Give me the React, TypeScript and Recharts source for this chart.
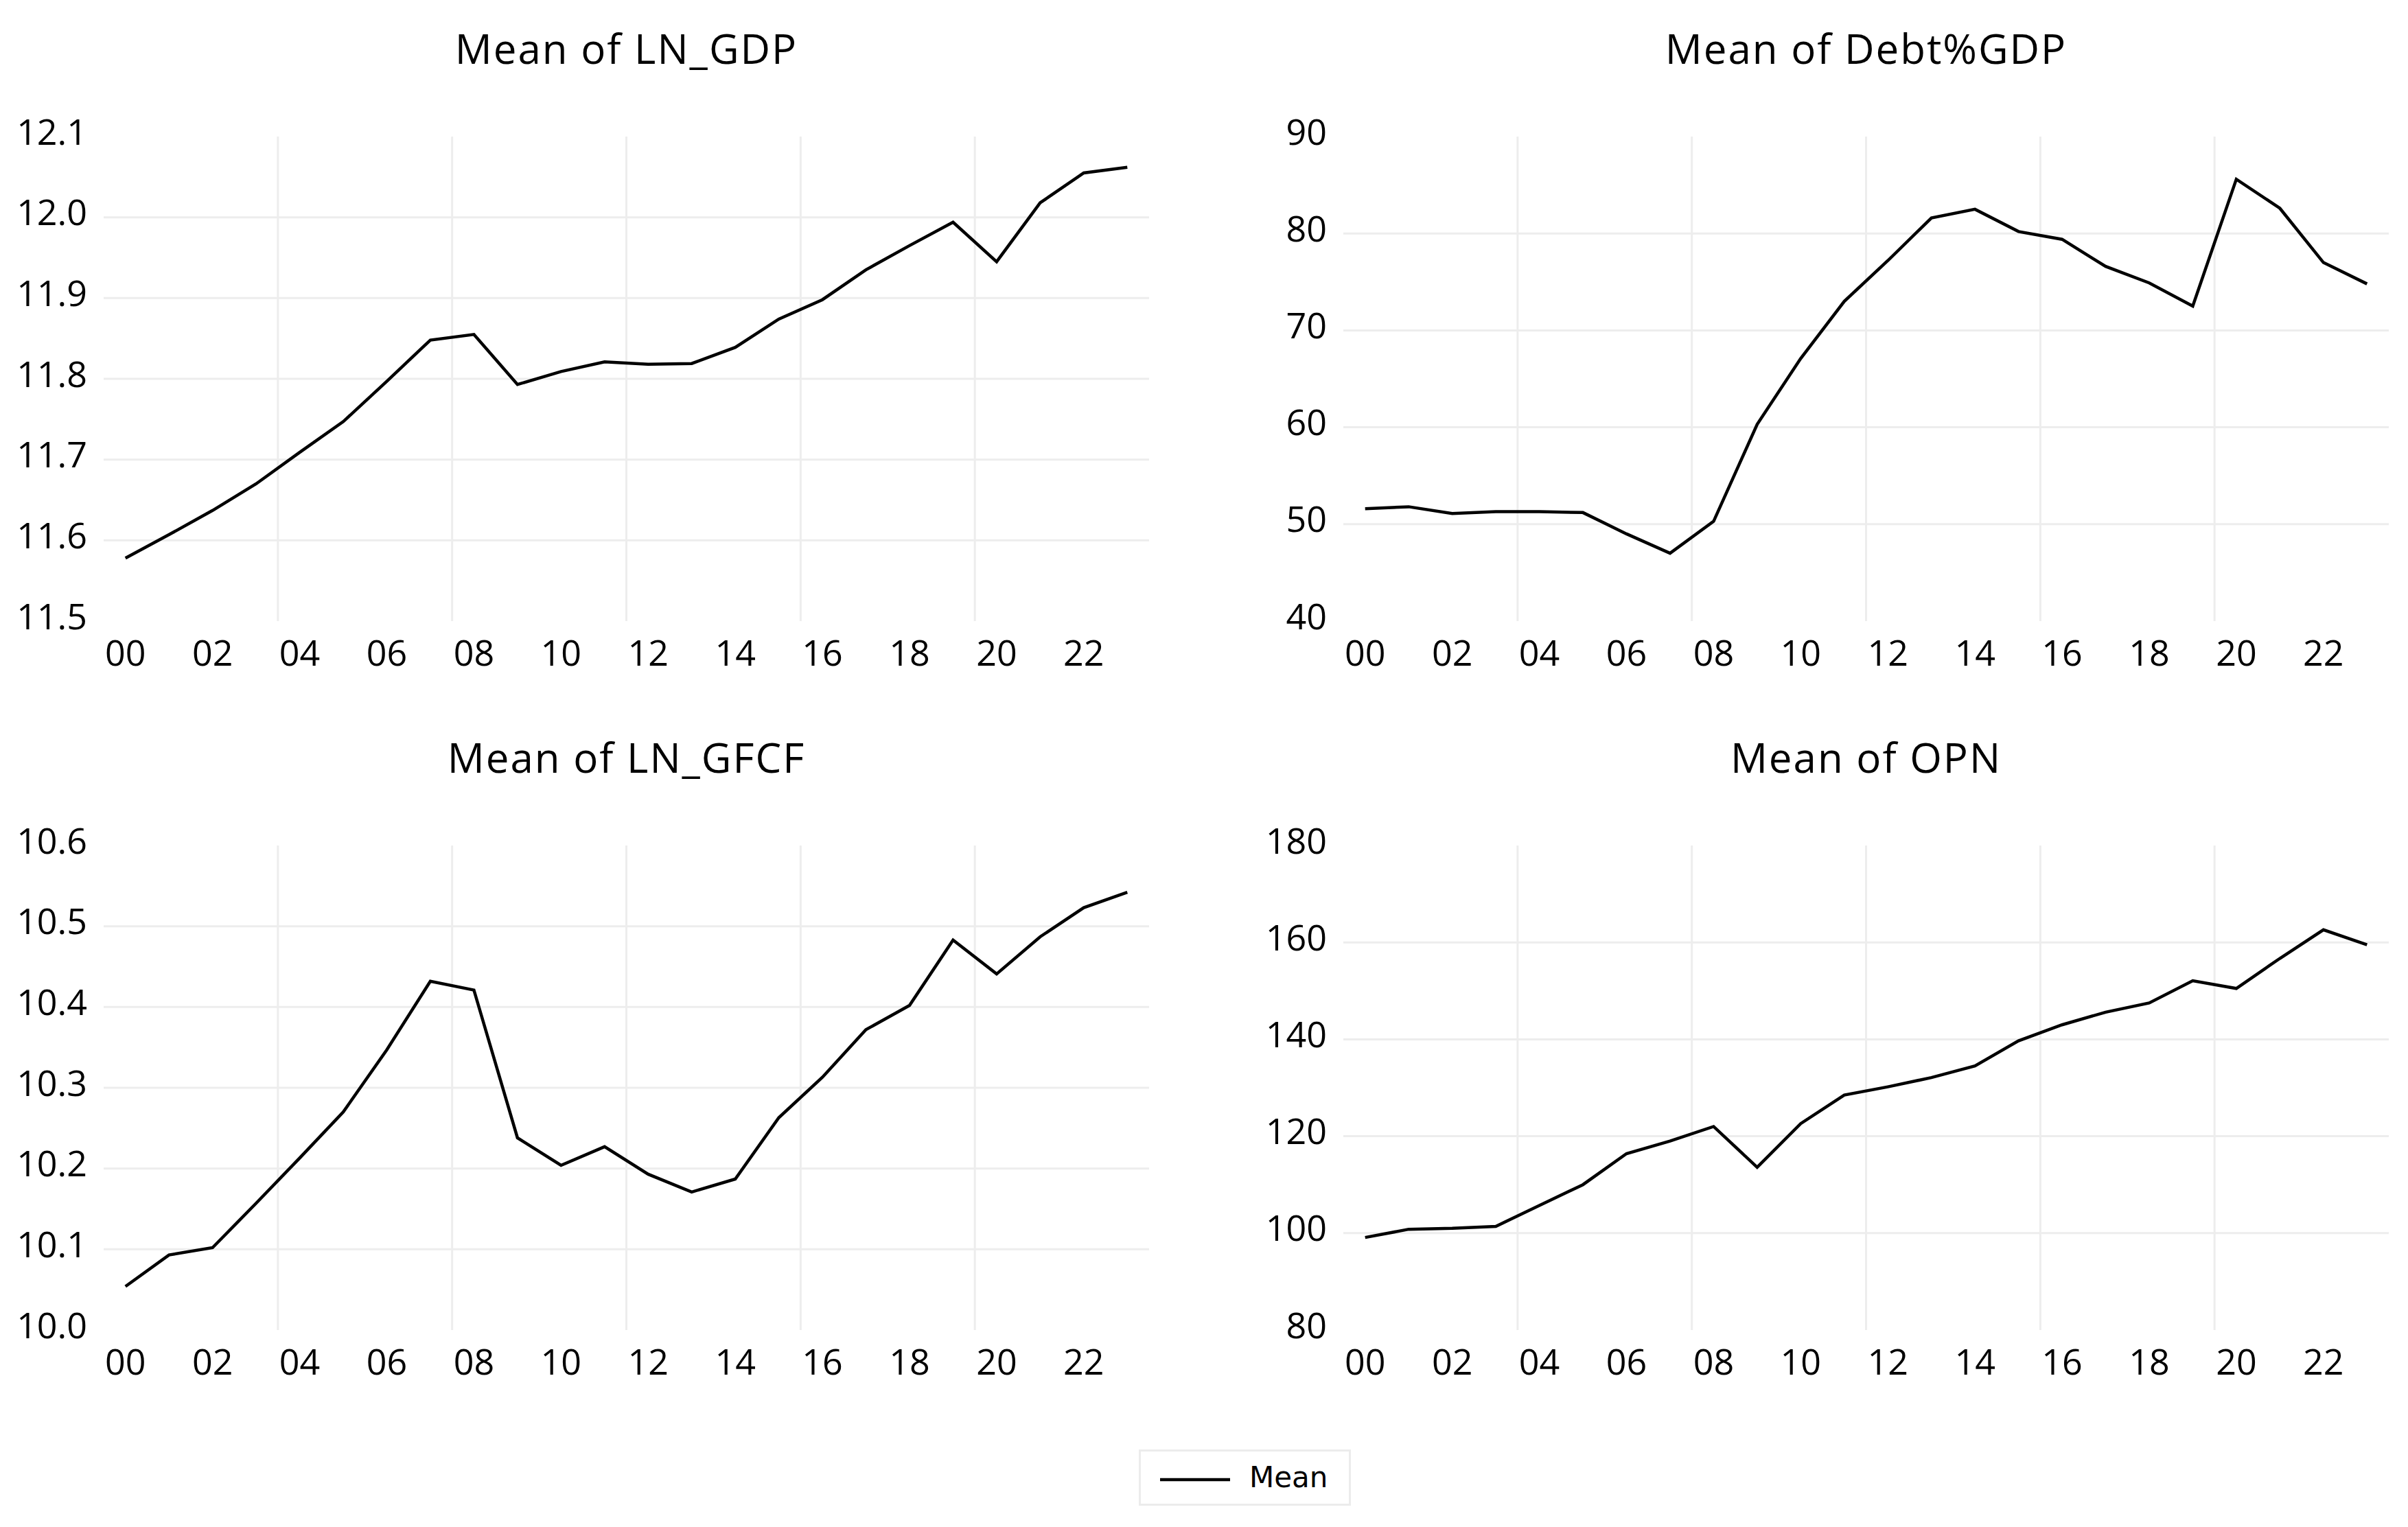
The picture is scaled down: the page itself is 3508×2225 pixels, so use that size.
import React from 'react';
import { LineChart, Line, XAxis, YAxis, ReferenceLine } from 'recharts';

// annual observations, 2000-2023
const years = [2000, 2001, 2002, 2003, 2004, 2005, 2006, 2007, 2008, 2009, 2010, 2011,
    2012, 2013, 2014, 2015, 2016, 2017, 2018, 2019, 2020, 2021, 2022, 2023];

const lnGdp = [11.578, 11.607, 11.637, 11.670, 11.709, 11.747, 11.797, 11.848, 11.855, 11.793, 11.809, 11.821,
    11.818, 11.819, 11.839, 11.874, 11.898, 11.935, 11.965, 11.994, 11.945, 12.018, 12.055, 12.062];

const debtGdp = [51.6, 51.8, 51.1, 51.3, 51.3, 51.2, 49.0, 47.0, 50.3, 60.3, 67.1, 73.0,
    77.2, 81.6, 82.5, 80.2, 79.4, 76.6, 74.9, 72.5, 85.6, 82.6, 77.0, 74.8];

const lnGfcf = [10.054, 10.093, 10.102, 10.157, 10.213, 10.270, 10.347, 10.432, 10.421, 10.238, 10.204, 10.227,
    10.193, 10.171, 10.187, 10.263, 10.313, 10.372, 10.402, 10.483, 10.441, 10.487, 10.523, 10.542];

const opn = [99.1, 100.8, 101.0, 101.4, 105.7, 110.0, 116.4, 119.0, 122.0, 113.6, 122.6, 128.5,
    130.2, 132.1, 134.5, 139.7, 143.0, 145.6, 147.5, 152.1, 150.5, 156.7, 162.6, 159.5];

const xTicks = [2000, 2002, 2004, 2006, 2008, 2010, 2012, 2014, 2016, 2018, 2020, 2022];
const yearGrid = [2003.5, 2007.5, 2011.5, 2015.5, 2019.5];

const gdpTicks = [11.5, 11.6, 11.7, 11.8, 11.9, 12.0, 12.1];
const debtTicks = [40, 50, 60, 70, 80, 90];
const gfcfTicks = [10.0, 10.1, 10.2, 10.3, 10.4, 10.5, 10.6];
const opnTicks = [80, 100, 120, 140, 160, 180];

const FONT = '"Open Sans", sans-serif';
const GRID = '#ededed';
const PLOT_W = 1523;
const PLOT_H = 706;
const AXIS_W = 150;
const TOP_M = 60;

interface PanelProps {
    title: string;
    values: number[];
    ticks: number[];
    decimals: number;
    plotLeft: number;
    plotTop: number;
}

function Panel({ title, values, ticks, decimals, plotLeft, plotTop }: PanelProps) {
    const data = years.map((yr, i) => ({ year: yr, v: values[i] }));

    const YTick = (props: any) => (
        <text x={props.x} y={props.y} dy={11.5} textAnchor="end" fontFamily={FONT} fontSize={52} fill="#000">
            {Number(props.payload.value).toFixed(decimals)}
        </text>
    );
    const XTick = (props: any) => (
        <text x={props.x} y={props.y} dy={65} textAnchor="middle" fontFamily={FONT} fontSize={52} fill="#000">
            {String(props.payload.value).slice(2)}
        </text>
    );

    return (
        <>
            <div style={{
                position: 'absolute', left: plotLeft, top: plotTop - 159, width: PLOT_W,
                textAlign: 'center', fontFamily: FONT, fontSize: 60, lineHeight: '60px',
                letterSpacing: 2, color: '#000', whiteSpace: 'nowrap'
            }}>
                {title}
            </div>
            <div style={{ position: 'absolute', left: plotLeft - AXIS_W, top: plotTop - TOP_M }}>
                <LineChart width={AXIS_W + PLOT_W + 20} height={TOP_M + PLOT_H + 110} data={data}
                    margin={{ top: TOP_M, right: 20, bottom: 0, left: 0 }}>
                    <XAxis dataKey="year" type="number" domain={[1999.5, 2023.5]} ticks={xTicks}
                        interval={0} allowDataOverflow axisLine={false} tickLine={false}
                        tickSize={0} tickMargin={0} height={110} tick={<XTick />} />
                    <YAxis type="number" domain={[ticks[0], ticks[ticks.length - 1]]} ticks={ticks}
                        interval={0} allowDataOverflow axisLine={false} tickLine={false}
                        tickSize={0} tickMargin={24} width={AXIS_W} tick={<YTick />} />
                    {ticks.slice(1, -1).map(t => (
                        <ReferenceLine key={'h' + t} y={t} stroke={GRID} strokeWidth={3} />
                    ))}
                    {yearGrid.map(g => (
                        <ReferenceLine key={'v' + g} x={g} stroke={GRID} strokeWidth={3} />
                    ))}
                    <Line type="linear" dataKey="v" stroke="#000" strokeWidth={4.5} dot={false}
                        activeDot={false} isAnimationActive={false} />
                </LineChart>
            </div>
        </>
    );
}

export default function App() {
    return (
        <div style={{
            position: 'absolute', left: 0, top: 0, width: 3508, height: 2225,
            background: '#fff', overflow: 'hidden'
        }}>
            <Panel title="Mean of LN_GDP" values={lnGdp} ticks={gdpTicks} decimals={1} plotLeft={151} plotTop={199} />
            <Panel title="Mean of Debt%GDP" values={debtGdp} ticks={debtTicks} decimals={0} plotLeft={1957} plotTop={199} />
            <Panel title="Mean of LN_GFCF" values={lnGfcf} ticks={gfcfTicks} decimals={1} plotLeft={151} plotTop={1232} />
            <Panel title="Mean of OPN" values={opn} ticks={opnTicks} decimals={0} plotLeft={1957} plotTop={1232} />

            <svg style={{ position: 'absolute', left: 1659, top: 2112 }} width={309} height={82}>
                <rect x={1.5} y={1.5} width={306} height={79} fill="#fff" stroke="#ececec" strokeWidth={3} />
                <line x1={31} x2={133} y1={44} y2={44} stroke="#000" strokeWidth={4.5} />
                <text x={161} y={55} fontFamily='"DejaVu Sans", sans-serif' fontSize={42} fill="#000">Mean</text>
            </svg>
        </div>
    );
}
